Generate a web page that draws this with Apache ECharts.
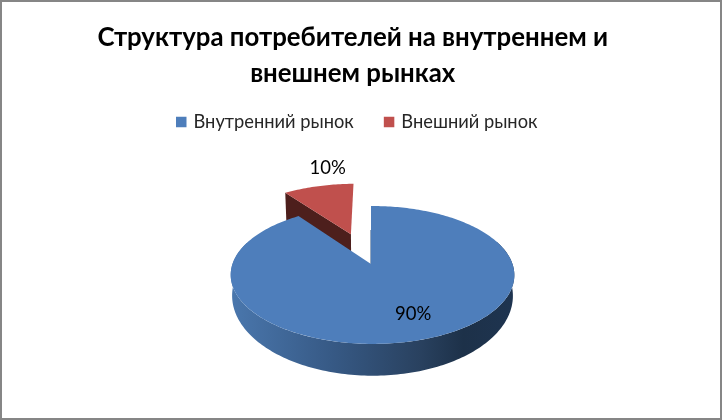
<!DOCTYPE html>
<html>
<head>
<meta charset="utf-8">
<style>html,body{margin:0;padding:0;background:#fff}#c{width:722px;height:420px}</style>
<script src="https://cdn.jsdelivr.net/npm/echarts@6/dist/echarts.min.js"></script>
</head>
<body>
<div id="c"></div>
<script>
const titleText = 'Структура потребителей на внутреннем и\nвнешнем рынках';
const categories = ['Внутренний рынок', 'Внешний рынок'];
const values = [90, 10];
const colors = ['#4e7ebb', '#c0504d'];

const total = values.reduce((a, b) => a + b, 0);
const P = {x0: 371, y0: 264, R: 140, A: 67.2, k: 0.159, h: 0.0106};
const planes = {
  top: {dy: 0, sx: 1, sy: 1},
  redBase: {dy: 33, sx: 0.985, sy: 0.985},
  blueBase: {dy: 19, sx: 0.99, sy: 1.16}
};
const explode = [0, 0.5];
const labelAt = [{f: 0.687, dx: 9, dy: 1}, {f: 1.968, dx: 22, dy: 0}];

function project(u, v, plane) {
  const w = 1 - P.k * v - P.h * u;
  return [P.x0 + P.R * u / w * plane.sx, P.y0 + plane.dy + P.A * v / w * plane.sy];
}
function sliceRange(i) {
  let start = 0;
  for (let j = 0; j < i; j++) start += values[j] / total * 2 * Math.PI;
  return [start, start + values[i] / total * 2 * Math.PI];
}
function rim(a, off, plane) {
  return project(off[0] + Math.sin(a), off[1] - Math.cos(a), plane);
}
function arc(a0, a1, off, plane) {
  const pts = [];
  const n = Math.max(2, Math.ceil(Math.abs(a1 - a0) / 0.02));
  for (let i = 0; i <= n; i++) pts.push(rim(a0 + (a1 - a0) * i / n, off, plane));
  return pts;
}
function renderSlice(i, api) {
  const val = api.value(0);
  const [a0, a1] = sliceRange(i);
  const mid = (a0 + a1) / 2;
  const e = explode[i];
  const off = [e * Math.sin(mid), -e * Math.cos(mid)];
  const fill = colors[i];
  const children = [];
  if (i === 0) {
    const wA = Math.PI * 70 / 180, wB = Math.PI * 290 / 180;
    const wall = arc(wA, wB, off, planes.top).concat(arc(wB, wA, off, planes.blueBase));
    children.push({
      type: 'polygon', shape: {points: wall},
      style: {fill: new echarts.graphic.LinearGradient(0, 0, 1, 0, [
        {offset: 0, color: '#4a77ad'},
        {offset: 0.35, color: '#375a86'},
        {offset: 0.67, color: '#29415f'},
        {offset: 0.82, color: '#1d3149'},
        {offset: 1, color: '#1e3450'}
      ])}
    });
    const ap = project(off[0], off[1], planes.top);
    children.push({
      type: 'line', shape: {x1: ap[0], y1: ap[1], x2: ap[0], y2: ap[1] - 34},
      style: {stroke: '#2f527f', lineWidth: 1}
    });
  } else {
    const t0 = project(off[0], off[1], planes.top), t1 = rim(a0, off, planes.top);
    const b0 = project(off[0], off[1], planes.redBase), b1 = rim(a0, off, planes.redBase);
    children.push({type: 'polygon', shape: {points: [t0, t1, b1, b0]}, style: {fill: '#4d1f1c'}});
  }
  const top = [project(off[0], off[1], planes.top)].concat(arc(a0, a1, off, planes.top));
  children.push({type: 'polygon', shape: {points: top}, style: {fill}});
  const la = labelAt[i];
  const lp = project(la.f * Math.sin(mid), la.f * -Math.cos(mid), planes.top);
  children.push({
    type: 'text', z2: 10,
    style: {
      x: lp[0] + la.dx, y: lp[1] + la.dy,
      text: Math.round(val / total * 100) + '%',
      fill: '#000', font: '18.5px Lato, "Open Sans", sans-serif',
      align: 'center', verticalAlign: 'middle'
    }
  });
  return {type: 'group', children};
}

const chart = echarts.init(document.getElementById('c'), null, {renderer: 'canvas'});
chart.setOption({
  animation: false,
  backgroundColor: '#fff',
  title: {
    text: titleText, left: 352.7, top: 20, textAlign: 'center', padding: 0,
    textStyle: {fontFamily: 'Lato, "Open Sans", sans-serif', fontWeight: 'bold', fontSize: 25.8, lineHeight: 36, color: '#000'}
  },
  legend: {
    left: 176, top: 113, padding: 0, icon: 'rect', itemWidth: 10.5, itemHeight: 10.5, itemGap: 30,
    data: categories,
    textStyle: {fontFamily: 'Lato, "Open Sans", sans-serif', fontSize: 18.3, color: '#262626', padding: [0, 0, 0, 2]}
  },
  graphic: [{
    type: 'rect', silent: true, z: 100,
    shape: {x: 1, y: 1, width: 720, height: 418},
    style: {fill: 'none', stroke: '#868686', lineWidth: 2}
  }],
  series: categories.map((name, i) => ({
    type: 'custom', name, coordinateSystem: 'none', z: i === 0 ? 3 : 2,
    itemStyle: {color: colors[i]},
    data: [[values[i]]],
    renderItem: (params, api) => renderSlice(i, api)
  }))
});
</script>
</body>
</html>
